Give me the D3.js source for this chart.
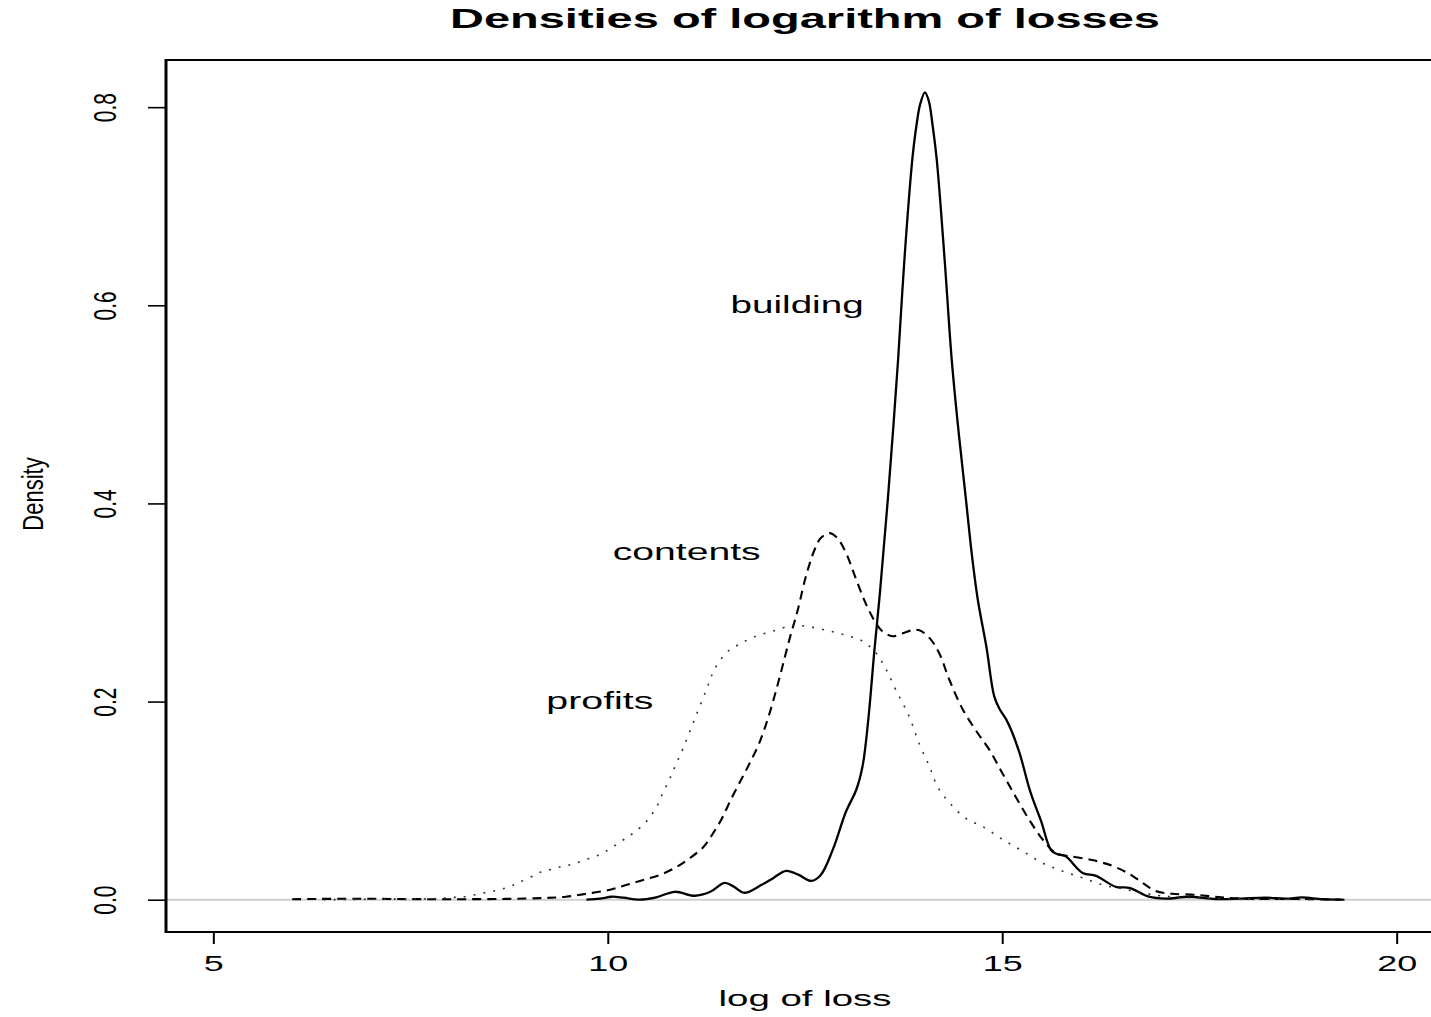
<!DOCTYPE html>
<html>
<head>
<meta charset="utf-8">
<script src="https://cdn.jsdelivr.net/npm/d3@7/dist/d3.min.js"></script>
<style>
  body { margin: 0; background: #fff; }
  svg { display: block; }
  text { font-family: "Liberation Sans", Arial, Helvetica, sans-serif; fill: #000; }
</style>
</head>
<body>
<svg id="chart" width="1431" height="1017"></svg>
<script>
// ---- data: kernel density estimates of log(loss) ----
const buildingX = [9.73, 9.9, 10.05, 10.2, 10.4, 10.6, 10.85, 11.1, 11.3, 11.48, 11.6, 11.73, 11.95, 12.1, 12.26, 12.42, 12.58, 12.7, 12.85, 13.02, 13.15, 13.23, 13.3, 13.38, 13.45, 13.55, 13.68, 13.76, 13.86, 13.91, 13.96, 14.02, 14.07, 14.12, 14.17, 14.27, 14.36, 14.45, 14.54, 14.62, 14.69, 14.8, 14.9, 14.97, 15.05, 15.12, 15.22, 15.36, 15.49, 15.62, 15.7, 15.8, 16.02, 16.19, 16.44, 16.61, 16.86, 17.07, 17.37, 17.7, 18.0, 18.34, 18.6, 18.8, 19.05, 19.3];
const buildingY = [0.0, 0.001, 0.003, 0.002, 0.0, 0.002, 0.008, 0.004, 0.008, 0.017, 0.013, 0.007, 0.015, 0.022, 0.029, 0.025, 0.019, 0.025, 0.05, 0.089, 0.111, 0.135, 0.18, 0.252, 0.31, 0.404, 0.545, 0.646, 0.747, 0.78, 0.803, 0.815, 0.806, 0.78, 0.747, 0.646, 0.545, 0.47, 0.404, 0.345, 0.303, 0.255, 0.205, 0.192, 0.182, 0.17, 0.148, 0.108, 0.08, 0.05, 0.046, 0.044, 0.027, 0.024, 0.013, 0.012, 0.003, 0.001, 0.003, 0.0007, 0.001, 0.002, 0.001, 0.0023, 0.0005, 0.0];

const contentsX = [6.0, 6.8, 7.5, 8.0, 8.7, 9.18, 9.47, 9.73, 10.03, 10.24, 10.45, 10.66, 10.87, 11.04, 11.21, 11.31, 11.44, 11.56, 11.69, 11.8, 11.92, 12.05, 12.18, 12.3, 12.41, 12.51, 12.62, 12.7, 12.81, 12.91, 13.02, 13.15, 13.27, 13.4, 13.48, 13.61, 13.74, 13.86, 13.95, 14.08, 14.2, 14.33, 14.5, 14.69, 14.84, 15.0, 15.17, 15.34, 15.51, 15.68, 15.85, 16.14, 16.4, 16.61, 16.78, 16.94, 17.15, 17.45, 17.7, 17.99, 18.34, 18.8, 19.34];
const contentsY = [0.0005, 0.001, 0.0006, 0.0005, 0.0008, 0.0017, 0.003, 0.006, 0.01, 0.015, 0.02, 0.025, 0.033, 0.042, 0.053, 0.064, 0.081, 0.101, 0.121, 0.138, 0.158, 0.188, 0.225, 0.262, 0.293, 0.326, 0.353, 0.365, 0.37, 0.365, 0.35, 0.323, 0.299, 0.279, 0.271, 0.266, 0.269, 0.272, 0.272, 0.264, 0.249, 0.222, 0.192, 0.168, 0.151, 0.128, 0.104, 0.081, 0.061, 0.047, 0.044, 0.04, 0.034, 0.026, 0.017, 0.009, 0.006, 0.005, 0.003, 0.0013, 0.0007, 0.0008, 0.0];

const profitsX = [6.4, 7.0, 7.79, 8.04, 8.17, 8.32, 8.44, 8.57, 8.67, 8.78, 8.89, 9.08, 9.18, 9.31, 9.43, 9.56, 9.7, 9.85, 9.98, 10.19, 10.32, 10.49, 10.62, 10.7, 10.78, 10.85, 10.95, 11.1, 11.25, 11.35, 11.5, 11.67, 11.88, 12.13, 12.35, 12.51, 12.77, 13.02, 13.23, 13.4, 13.53, 13.65, 13.82, 13.95, 14.08, 14.18, 14.33, 14.54, 14.75, 15.0, 15.26, 15.51, 15.76, 16.02, 16.27, 16.52, 16.78, 17.0, 17.4, 18.0, 18.6, 19.0];
const profitsY = [0.0, 0.0005, 0.001, 0.0023, 0.003, 0.005, 0.007, 0.009, 0.011, 0.014, 0.018, 0.025, 0.029, 0.031, 0.034, 0.036, 0.04, 0.044, 0.049, 0.06, 0.067, 0.079, 0.094, 0.108, 0.121, 0.134, 0.152, 0.182, 0.212, 0.232, 0.249, 0.258, 0.266, 0.272, 0.277, 0.276, 0.272, 0.267, 0.261, 0.249, 0.232, 0.212, 0.185, 0.157, 0.134, 0.114, 0.098, 0.082, 0.074, 0.061, 0.049, 0.037, 0.029, 0.022, 0.015, 0.011, 0.007, 0.004, 0.002, 0.001, 0.0005, 0.0];

const seriesNames = ["building", "contents", "profits"];
const labelAtX = [12.4, 11.0, 9.9];
const labelAtY = [0.6, 0.35, 0.2];

const xLimits = [5, 20];
const xTicks = [5, 10, 15, 20];
const xTickLabels = ["5", "10", "15", "20"];
const yTicks = [0, 0.2, 0.4, 0.6, 0.8];
const yTickLabels = ["0.0", "0.2", "0.4", "0.6", "0.8"];

const titleText = "Densities of logarithm of losses";
const xAxisTitle = "log of loss";
const yAxisTitle = "Density";

// ---- layout ----
const plot = { left: 166, right: 1444, top: 60, bottom: 932 };
const svg = d3.select("#chart");

// axis ranges padded 4% like base graphics
function padded([a, b]) { const d = (b - a) * 0.04; return [a - d, b + d]; }
const series = [
  { name: seriesNames[0], xs: buildingX, ys: buildingY, dash: null, width: 2.3, color: "#000" },
  { name: seriesNames[1], xs: contentsX, ys: contentsY, dash: "9,6", width: 2.1, color: "#000" },
  { name: seriesNames[2], xs: profitsX, ys: profitsY, dash: "2,8", width: 1.6, color: "#333" }
];
const yMax = d3.max(series, s => d3.max(s.ys));

const x = d3.scaleLinear().domain(padded(xLimits)).range([plot.left, plot.right]);
const y = d3.scaleLinear().domain(padded([0, yMax])).range([plot.bottom, plot.top]);

// zero reference line
svg.append("line")
  .attr("x1", plot.left).attr("x2", plot.right)
  .attr("y1", y(0)).attr("y2", y(0))
  .attr("stroke", "#cfcfcf").attr("stroke-width", 2);

// density curves
const line = d3.line().x(d => x(d[0])).y(d => y(d[1])).curve(d3.curveCatmullRom.alpha(0.5));
series.forEach(s => {
  svg.append("path")
    .datum(s.xs.map((v, i) => [v, s.ys[i]]))
    .attr("d", line)
    .attr("fill", "none")
    .attr("stroke", s.color)
    .attr("stroke-width", s.width)
    .attr("stroke-linejoin", "round")
    .attr("stroke-dasharray", s.dash);
});

// plot frame
svg.append("line").attr("x1", plot.left).attr("x2", plot.right + 10).attr("y1", plot.top).attr("y2", plot.top)
  .attr("stroke", "#000").attr("stroke-width", 1.8);
svg.append("line").attr("x1", plot.left).attr("x2", plot.right + 10).attr("y1", plot.bottom).attr("y2", plot.bottom)
  .attr("stroke", "#000").attr("stroke-width", 1.8);
svg.append("line").attr("x1", plot.left).attr("x2", plot.left).attr("y1", plot.top - 0.9).attr("y2", plot.bottom + 0.9)
  .attr("stroke", "#000").attr("stroke-width", 3);

// x axis
const xAxis = d3.axisBottom(x).tickValues(xTicks).tickSize(12).tickSizeOuter(0)
  .tickFormat((d, i) => xTickLabels[i]);
const gx = svg.append("g").attr("transform", `translate(0,${plot.bottom})`).call(xAxis);
gx.select(".domain").remove();
gx.selectAll(".tick line").attr("stroke", "#000").attr("stroke-width", 2);
gx.selectAll(".tick text")
  .attr("y", 39).attr("dy", null)
  .attr("font-size", 22)
  .attr("font-family", "Liberation Sans, Arial, sans-serif")
  .attr("fill", "#000")
  .attr("textLength", (d, i) => xTickLabels[i].length * 20)
  .attr("lengthAdjust", "spacingAndGlyphs");

// y axis
const yAxis = d3.axisLeft(y).tickValues(yTicks).tickSize(18).tickSizeOuter(0)
  .tickFormat((d, i) => yTickLabels[i]);
const gy = svg.append("g").attr("transform", `translate(${plot.left},0)`).call(yAxis);
gy.select(".domain").remove();
gy.selectAll(".tick line").attr("stroke", "#000").attr("stroke-width", 1.6);
gy.selectAll(".tick text").remove();
gy.selectAll(".tick").append("text")
  .attr("transform", "translate(-50,0) scale(1.5,1) rotate(-90)")
  .attr("text-anchor", "middle")
  .attr("font-size", 21)
  .attr("font-family", "Liberation Sans, Arial, sans-serif")
  .attr("fill", "#000")
  .text((d, i) => yTickLabels[i]);

// titles
const midX = (plot.left + plot.right) / 2;
svg.append("text")
  .attr("x", midX).attr("y", 28)
  .attr("text-anchor", "middle")
  .attr("font-size", 28).attr("font-weight", "bold")
  .attr("textLength", 710).attr("lengthAdjust", "spacingAndGlyphs")
  .text(titleText);

svg.append("text")
  .attr("x", midX).attr("y", 1006)
  .attr("text-anchor", "middle")
  .attr("font-size", 22)
  .attr("textLength", 173).attr("lengthAdjust", "spacingAndGlyphs")
  .text(xAxisTitle);

svg.append("text")
  .attr("transform", `translate(43,${(plot.top + plot.bottom) / 2 - 2}) scale(1.3,1) rotate(-90)`)
  .attr("text-anchor", "middle")
  .attr("font-size", 22)
  .text(yAxisTitle);

// series labels placed in data coordinates
const labelWidths = [133, 148, 107];
seriesNames.forEach((name, i) => {
  svg.append("text")
    .attr("x", x(labelAtX[i]))
    .attr("y", y(labelAtY[i]) + 7.5)
    .attr("text-anchor", "middle")
    .attr("font-size", 23)
    .attr("textLength", labelWidths[i]).attr("lengthAdjust", "spacingAndGlyphs")
    .text(name);
});
</script>
</body>
</html>
